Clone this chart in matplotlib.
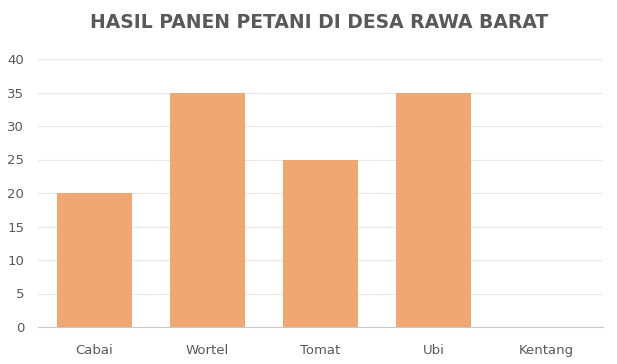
import numpy as np
import matplotlib.pyplot as plt

categories = ['Cabai', 'Wortel', 'Tomat', 'Ubi', 'Kentang']
values = [20, 35, 25, 35, 0]
yticks = [0, 5, 10, 15, 20, 25, 30, 35, 40]

text_color = '#595959'

fig = plt.figure(figsize=(6.17, 3.64), dpi=100)
ax = fig.add_axes([38 / 617, 37 / 364, 565 / 617, 268 / 364])

x = np.arange(len(categories))
ax.bar(x, values, width=0.66, color='#F0A46C', zorder=3, alpha=0.97)

ax.set_xlim(-0.5, len(categories) - 0.5)
ax.set_ylim(0, 40)
ax.set_yticks(yticks)
ax.set_xticks(x)
ax.set_xticklabels(categories)

ax.grid(axis='y', color='#e8e8e8', linewidth=0.8, zorder=0)
for side in ['top', 'right', 'left']:
    ax.spines[side].set_visible(False)
ax.spines['bottom'].set_color('#c8c8c8')
ax.tick_params(axis='both', length=0, colors=text_color, labelsize=9.5)
ax.tick_params(axis='x', pad=12)
ax.tick_params(axis='y', pad=10)

fig.text(0.517, 1 - 22 / 364, 'HASIL PANEN PETANI DI DESA RAWA BARAT',
         ha='center', va='center', fontsize=13.5, fontweight='bold', color=text_color)

fig.savefig('out.png', dpi=100)
